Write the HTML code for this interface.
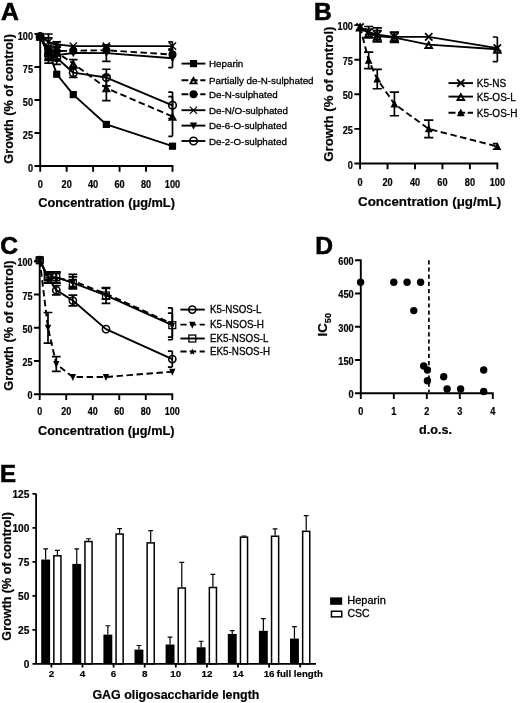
<!DOCTYPE html>
<html><head><meta charset="utf-8"><style>
html,body{margin:0;padding:0;background:#fff;}
svg{display:block;font-family:"Liberation Sans",sans-serif;will-change:transform;}
.r{stroke:#000;stroke-width:0.3px;}
.L{stroke:#000;stroke-width:0.6px;}
text{stroke:#000;stroke-width:0.2px;}
</style></head><body>
<svg width="520" height="703" viewBox="0 0 520 703">
<rect width="520" height="703" fill="#fff"/>
<text x="0.9" y="19.9" font-size="24.8" font-weight="bold" text-anchor="start" class="L">A</text>
<path d="M40.2 34 V166 H172.5 M40.2 166 v4.8 M66.66 166 v4.8 M93.12 166 v4.8 M119.58 166 v4.8 M146.04 166 v4.8 M172.5 166 v4.8 M40.2 166 h-4.8 M40.2 133 h-4.8 M40.2 100 h-4.8 M40.2 67 h-4.8 M40.2 34 h-4.8" stroke="#000" stroke-width="1.9" fill="none" stroke-linecap="square"/>
<text x="40.2" y="187.9" font-size="10" font-weight="bold" text-anchor="middle" textLength="5.1" lengthAdjust="spacingAndGlyphs">0</text>
<text x="66.66" y="187.9" font-size="10" font-weight="bold" text-anchor="middle" textLength="10.2" lengthAdjust="spacingAndGlyphs">20</text>
<text x="93.12" y="187.9" font-size="10" font-weight="bold" text-anchor="middle" textLength="10.2" lengthAdjust="spacingAndGlyphs">40</text>
<text x="119.58" y="187.9" font-size="10" font-weight="bold" text-anchor="middle" textLength="10.2" lengthAdjust="spacingAndGlyphs">60</text>
<text x="146.04" y="187.9" font-size="10" font-weight="bold" text-anchor="middle" textLength="10.2" lengthAdjust="spacingAndGlyphs">80</text>
<text x="172.5" y="187.9" font-size="10" font-weight="bold" text-anchor="middle" textLength="15.3" lengthAdjust="spacingAndGlyphs">100</text>
<text x="33" y="171.6" font-size="10" font-weight="bold" text-anchor="end" textLength="5.1" lengthAdjust="spacingAndGlyphs">0</text>
<text x="33" y="138.6" font-size="10" font-weight="bold" text-anchor="end" textLength="10.2" lengthAdjust="spacingAndGlyphs">25</text>
<text x="33" y="105.6" font-size="10" font-weight="bold" text-anchor="end" textLength="10.2" lengthAdjust="spacingAndGlyphs">50</text>
<text x="33" y="72.6" font-size="10" font-weight="bold" text-anchor="end" textLength="10.2" lengthAdjust="spacingAndGlyphs">75</text>
<text x="33" y="39.6" font-size="10" font-weight="bold" text-anchor="end" textLength="15.3" lengthAdjust="spacingAndGlyphs">100</text>
<text x="38.3" y="206.6" font-size="12.6" font-weight="bold" text-anchor="start" textLength="136.6" lengthAdjust="spacingAndGlyphs">Concentration (&#956;g/mL)</text>
<text transform="translate(13.4,98.9) rotate(-90)" font-size="12.6" font-weight="bold" text-anchor="middle" textLength="129.5" lengthAdjust="spacingAndGlyphs">Growth (% of control)</text>
<polyline points="40.2,36.64 48.47,41.92 56.74,44.56 73.28,46.14 106.35,46.14 172.5,46.14" fill="none" stroke="#000" stroke-width="1.9" stroke-linejoin="round"/>
<polyline points="40.2,36.64 48.47,52.48 56.74,51.16 73.28,50.76 106.35,50.24 172.5,54.59" fill="none" stroke="#000" stroke-width="1.9" stroke-linejoin="round" stroke-dasharray="6.5,3.5"/>
<polyline points="40.2,36.64 48.47,53.8 56.74,55.12 73.28,53.01 106.35,53.14 172.5,58.29" fill="none" stroke="#000" stroke-width="1.9" stroke-linejoin="round"/>
<polyline points="40.2,36.64 48.47,48.52 56.74,52.48 73.28,63.57 106.35,88.12 172.5,116.5" fill="none" stroke="#000" stroke-width="1.9" stroke-linejoin="round" stroke-dasharray="6.5,3.5"/>
<polyline points="40.2,36.64 48.47,55.12 56.74,57.76 73.28,72.68 106.35,77.56 172.5,105.28" fill="none" stroke="#000" stroke-width="1.9" stroke-linejoin="round"/>
<polyline points="40.2,36.64 48.47,49.84 56.74,74.26 73.28,94.59 106.35,124.42 172.5,146.2" fill="none" stroke="#000" stroke-width="1.9" stroke-linejoin="round"/>
<path d="M48.47 37.96 V45.88 M44.27 37.96 H52.67 M44.27 45.88 H52.67" stroke="#000" stroke-width="1.7" fill="none"/>
<path d="M56.74 41.92 V47.2 M52.54 41.92 H60.94 M52.54 47.2 H60.94" stroke="#000" stroke-width="1.7" fill="none"/>
<path d="M172.5 41.79 V50.5 M168.3 41.79 H172.5 M168.3 50.5 H172.5" stroke="#000" stroke-width="1.7" fill="none"/>
<path d="M36.56 33 L43.84 40.28 M43.84 33 L36.56 40.28" stroke="#000" stroke-width="1.2" fill="none"/>
<path d="M44.83 38.28 L52.11 45.56 M52.11 38.28 L44.83 45.56" stroke="#000" stroke-width="1.2" fill="none"/>
<path d="M53.1 40.92 L60.38 48.2 M60.38 40.92 L53.1 48.2" stroke="#000" stroke-width="1.2" fill="none"/>
<path d="M69.64 42.5 L76.92 49.78 M76.92 42.5 L69.64 49.78" stroke="#000" stroke-width="1.2" fill="none"/>
<path d="M102.71 42.5 L109.99 49.78 M109.99 42.5 L102.71 49.78" stroke="#000" stroke-width="1.2" fill="none"/>
<path d="M168.86 42.5 L176.14 49.78 M176.14 42.5 L168.86 49.78" stroke="#000" stroke-width="1.2" fill="none"/>
<path d="M48.47 48.52 V56.44 M44.27 48.52 H52.67 M44.27 56.44 H52.67" stroke="#000" stroke-width="1.7" fill="none"/>
<path d="M56.74 47.2 V55.12 M52.54 47.2 H60.94 M52.54 55.12 H60.94" stroke="#000" stroke-width="1.7" fill="none"/>
<circle cx="40.2" cy="36.64" r="4" fill="#000"/>
<circle cx="48.47" cy="52.48" r="4" fill="#000"/>
<circle cx="56.74" cy="51.16" r="4" fill="#000"/>
<circle cx="73.28" cy="50.76" r="4" fill="#000"/>
<circle cx="106.35" cy="50.24" r="4" fill="#000"/>
<circle cx="172.5" cy="54.59" r="4" fill="#000"/>
<path d="M48.47 48.52 V59.08 M44.27 48.52 H52.67 M44.27 59.08 H52.67" stroke="#000" stroke-width="1.7" fill="none"/>
<path d="M56.74 51.16 V59.08 M52.54 51.16 H60.94 M52.54 59.08 H60.94" stroke="#000" stroke-width="1.7" fill="none"/>
<path d="M106.35 44.82 V61.46 M102.15 44.82 H110.55 M102.15 61.46 H110.55" stroke="#000" stroke-width="1.7" fill="none"/>
<path d="M172.5 49.05 V67.53 M168.3 49.05 H172.5 M168.3 67.53 H172.5" stroke="#000" stroke-width="1.7" fill="none"/>
<path d="M36.6 33.62 L43.8 33.62 L40.2 40.82 Z" fill="#000"/>
<path d="M44.87 50.78 L52.07 50.78 L48.47 57.98 Z" fill="#000"/>
<path d="M53.14 52.1 L60.34 52.1 L56.74 59.3 Z" fill="#000"/>
<path d="M69.68 49.98 L76.88 49.98 L73.28 57.18 Z" fill="#000"/>
<path d="M102.75 50.12 L109.95 50.12 L106.35 57.32 Z" fill="#000"/>
<path d="M168.9 55.26 L176.1 55.26 L172.5 62.46 Z" fill="#000"/>
<path d="M48.47 34 V63.04 M44.27 34 H52.67 M44.27 63.04 H52.67" stroke="#000" stroke-width="1.7" fill="none"/>
<path d="M56.74 44.56 V60.4 M52.54 44.56 H60.94 M52.54 60.4 H60.94" stroke="#000" stroke-width="1.7" fill="none"/>
<path d="M73.28 59.61 V67.53 M69.08 59.61 H77.48 M69.08 67.53 H77.48" stroke="#000" stroke-width="1.7" fill="none"/>
<path d="M106.35 75.58 V100.66 M102.15 75.58 H110.55 M102.15 100.66 H110.55" stroke="#000" stroke-width="1.7" fill="none"/>
<path d="M172.5 96.7 V136.3 M168.3 96.7 H172.5 M168.3 136.3 H172.5" stroke="#000" stroke-width="1.7" fill="none"/>
<path d="M40.2 34.48 L43.18 39.84 L37.22 39.84 Z" fill="none" stroke="#000" stroke-width="1.9" stroke-linejoin="miter"/>
<path d="M48.47 46.36 L51.45 51.72 L45.49 51.72 Z" fill="none" stroke="#000" stroke-width="1.9" stroke-linejoin="miter"/>
<path d="M56.74 50.32 L59.72 55.68 L53.76 55.68 Z" fill="none" stroke="#000" stroke-width="1.9" stroke-linejoin="miter"/>
<path d="M73.28 61.41 L76.26 66.77 L70.3 66.77 Z" fill="none" stroke="#000" stroke-width="1.9" stroke-linejoin="miter"/>
<path d="M106.35 85.96 L109.33 91.32 L103.37 91.32 Z" fill="none" stroke="#000" stroke-width="1.9" stroke-linejoin="miter"/>
<path d="M172.5 114.34 L175.48 119.7 L169.52 119.7 Z" fill="none" stroke="#000" stroke-width="1.9" stroke-linejoin="miter"/>
<path d="M48.47 49.84 V60.4 M44.27 49.84 H52.67 M44.27 60.4 H52.67" stroke="#000" stroke-width="1.7" fill="none"/>
<path d="M56.74 51.16 V64.36 M52.54 51.16 H60.94 M52.54 64.36 H60.94" stroke="#000" stroke-width="1.7" fill="none"/>
<path d="M73.28 68.06 V77.3 M69.08 68.06 H77.48 M69.08 77.3 H77.48" stroke="#000" stroke-width="1.7" fill="none"/>
<path d="M106.35 69.24 V85.88 M102.15 69.24 H110.55 M102.15 85.88 H110.55" stroke="#000" stroke-width="1.7" fill="none"/>
<path d="M172.5 92.08 V118.48 M168.3 92.08 H172.5 M168.3 118.48 H172.5" stroke="#000" stroke-width="1.7" fill="none"/>
<circle cx="40.2" cy="36.64" r="3.8" fill="none" stroke="#000" stroke-width="1.6"/>
<circle cx="48.47" cy="55.12" r="3.8" fill="none" stroke="#000" stroke-width="1.6"/>
<circle cx="56.74" cy="57.76" r="3.8" fill="none" stroke="#000" stroke-width="1.6"/>
<circle cx="73.28" cy="72.68" r="3.8" fill="none" stroke="#000" stroke-width="1.6"/>
<circle cx="106.35" cy="77.56" r="3.8" fill="none" stroke="#000" stroke-width="1.6"/>
<circle cx="172.5" cy="105.28" r="3.8" fill="none" stroke="#000" stroke-width="1.6"/>
<rect x="36.6" y="33.04" width="7.2" height="7.2" fill="#000"/>
<rect x="44.87" y="46.24" width="7.2" height="7.2" fill="#000"/>
<rect x="53.14" y="70.66" width="7.2" height="7.2" fill="#000"/>
<rect x="69.68" y="90.99" width="7.2" height="7.2" fill="#000"/>
<rect x="102.75" y="120.82" width="7.2" height="7.2" fill="#000"/>
<rect x="168.9" y="142.6" width="7.2" height="7.2" fill="#000"/>
<path d="M181.5 63.6 H205.4" stroke="#000" stroke-width="1.9"/>
<rect x="189.9" y="60" width="7.2" height="7.2" fill="#000"/>
<text x="209" y="67.4" font-size="9.8" font-weight="normal" text-anchor="start" class="r">Heparin</text>
<path d="M181.5 80.2 H205.4" stroke="#000" stroke-width="1.9" stroke-dasharray="6.8,2.6"/>
<path d="M193.5 78.05 L196.48 83.4 L190.52 83.4 Z" fill="none" stroke="#000" stroke-width="1.9" stroke-linejoin="miter"/>
<text x="209" y="83.8" font-size="9.8" font-weight="normal" text-anchor="start" class="r">Partially de-N-sulphated</text>
<path d="M181.5 94.3 H205.4" stroke="#000" stroke-width="1.9" stroke-dasharray="6.8,2.6"/>
<circle cx="193.5" cy="94.3" r="4" fill="#000"/>
<text x="209" y="98.1" font-size="9.8" font-weight="normal" text-anchor="start" class="r">De-N-sulphated</text>
<path d="M181.5 110.2 H205.4" stroke="#000" stroke-width="1.9"/>
<path d="M189.86 106.56 L197.14 113.84 M197.14 106.56 L189.86 113.84" stroke="#000" stroke-width="1.2" fill="none"/>
<text x="209" y="114" font-size="9.8" font-weight="normal" text-anchor="start" class="r">De-N/O-sulphated</text>
<path d="M181.5 125.6 H205.4" stroke="#000" stroke-width="1.9"/>
<path d="M189.9 122.58 L197.1 122.58 L193.5 129.78 Z" fill="#000"/>
<text x="209" y="129.4" font-size="9.8" font-weight="normal" text-anchor="start" class="r">De-6-O-sulphated</text>
<path d="M181.5 141 H205.4" stroke="#000" stroke-width="1.9"/>
<circle cx="193.5" cy="141" r="3.8" fill="none" stroke="#000" stroke-width="1.6"/>
<text x="209" y="144.8" font-size="9.8" font-weight="normal" text-anchor="start" class="r">De-2-O-sulphated</text>
<text x="314" y="20.1" font-size="24.6" font-weight="bold" text-anchor="start" class="L">B</text>
<path d="M360.1 25.1 V163.5 H497.35 M360.1 163.5 v4.8 M387.55 163.5 v4.8 M415 163.5 v4.8 M442.45 163.5 v4.8 M469.9 163.5 v4.8 M497.35 163.5 v4.8 M360.1 163.5 h-4.8 M360.1 128.9 h-4.8 M360.1 94.3 h-4.8 M360.1 59.7 h-4.8 M360.1 25.1 h-4.8" stroke="#000" stroke-width="1.9" fill="none" stroke-linecap="square"/>
<text x="360.1" y="185.8" font-size="10.2" font-weight="bold" text-anchor="middle" textLength="5.1" lengthAdjust="spacingAndGlyphs">0</text>
<text x="387.55" y="185.8" font-size="10.2" font-weight="bold" text-anchor="middle" textLength="10.2" lengthAdjust="spacingAndGlyphs">20</text>
<text x="415" y="185.8" font-size="10.2" font-weight="bold" text-anchor="middle" textLength="10.2" lengthAdjust="spacingAndGlyphs">40</text>
<text x="442.45" y="185.8" font-size="10.2" font-weight="bold" text-anchor="middle" textLength="10.2" lengthAdjust="spacingAndGlyphs">60</text>
<text x="469.9" y="185.8" font-size="10.2" font-weight="bold" text-anchor="middle" textLength="10.2" lengthAdjust="spacingAndGlyphs">80</text>
<text x="497.35" y="185.8" font-size="10.2" font-weight="bold" text-anchor="middle" textLength="15.3" lengthAdjust="spacingAndGlyphs">100</text>
<text x="352.9" y="168.6" font-size="10.2" font-weight="bold" text-anchor="end" textLength="5.1" lengthAdjust="spacingAndGlyphs">0</text>
<text x="352.9" y="134" font-size="10.2" font-weight="bold" text-anchor="end" textLength="10.2" lengthAdjust="spacingAndGlyphs">25</text>
<text x="352.9" y="99.4" font-size="10.2" font-weight="bold" text-anchor="end" textLength="10.2" lengthAdjust="spacingAndGlyphs">50</text>
<text x="352.9" y="64.8" font-size="10.2" font-weight="bold" text-anchor="end" textLength="10.2" lengthAdjust="spacingAndGlyphs">75</text>
<text x="352.9" y="30.2" font-size="10.2" font-weight="bold" text-anchor="end" textLength="15.3" lengthAdjust="spacingAndGlyphs">100</text>
<text x="358" y="205.6" font-size="13.2" font-weight="bold" text-anchor="start" textLength="143.2" lengthAdjust="spacingAndGlyphs">Concentration (&#956;g/mL)</text>
<text transform="translate(332.8,94.1) rotate(-90)" font-size="13.2" font-weight="bold" text-anchor="middle" textLength="135.2" lengthAdjust="spacingAndGlyphs">Growth (% of control)</text>
<polyline points="360.1,27.04 368.68,33.4 377.26,36.17 394.41,37.56 428.73,44.61 497.35,49.32" fill="none" stroke="#000" stroke-width="1.9" stroke-linejoin="round"/>
<polyline points="360.1,27.04 368.68,32.02 377.26,34.79 394.41,36.86 428.73,36.86 497.35,48.07" fill="none" stroke="#000" stroke-width="1.9" stroke-linejoin="round"/>
<polyline points="360.1,27.04 368.68,60.39 377.26,79.08 394.41,103.99 428.73,128.9 497.35,146.48" fill="none" stroke="#000" stroke-width="1.9" stroke-linejoin="round" stroke-dasharray="6.5,3.5"/>
<path d="M368.68 29.25 V37.56 M364.08 29.25 H373.28 M364.08 37.56 H373.28" stroke="#000" stroke-width="1.7" fill="none"/>
<path d="M377.26 30.64 V41.71 M372.66 30.64 H381.86 M372.66 41.71 H381.86" stroke="#000" stroke-width="1.7" fill="none"/>
<path d="M394.41 32.71 V42.4 M389.81 32.71 H399.01 M389.81 42.4 H399.01" stroke="#000" stroke-width="1.7" fill="none"/>
<path d="M497.35 37 V61.64 M492.75 37 H497.35 M492.75 61.64 H497.35" stroke="#000" stroke-width="1.7" fill="none"/>
<path d="M360.1 24.64 L363.35 30.54 L356.85 30.54 Z" fill="none" stroke="#000" stroke-width="2" stroke-linejoin="miter"/>
<path d="M368.68 31 L371.93 36.9 L365.43 36.9 Z" fill="none" stroke="#000" stroke-width="2" stroke-linejoin="miter"/>
<path d="M377.26 33.77 L380.51 39.67 L374.01 39.67 Z" fill="none" stroke="#000" stroke-width="2" stroke-linejoin="miter"/>
<path d="M394.41 35.16 L397.66 41.06 L391.16 41.06 Z" fill="none" stroke="#000" stroke-width="2" stroke-linejoin="miter"/>
<path d="M428.73 42.21 L431.98 48.11 L425.48 48.11 Z" fill="none" stroke="#000" stroke-width="2" stroke-linejoin="miter"/>
<path d="M497.35 46.92 L500.6 52.82 L494.1 52.82 Z" fill="none" stroke="#000" stroke-width="2" stroke-linejoin="miter"/>
<path d="M368.68 26.48 V37.56 M364.08 26.48 H373.28 M364.08 37.56 H373.28" stroke="#000" stroke-width="1.7" fill="none"/>
<path d="M377.26 27.87 V41.71 M372.66 27.87 H381.86 M372.66 41.71 H381.86" stroke="#000" stroke-width="1.7" fill="none"/>
<path d="M394.41 32.02 V41.71 M389.81 32.02 H399.01 M389.81 41.71 H399.01" stroke="#000" stroke-width="1.7" fill="none"/>
<path d="M356.44 23.38 L363.76 30.7 M363.76 23.38 L356.44 30.7" stroke="#000" stroke-width="1.8" fill="none"/>
<path d="M365.02 28.36 L372.34 35.68 M372.34 28.36 L365.02 35.68" stroke="#000" stroke-width="1.8" fill="none"/>
<path d="M373.6 31.13 L380.92 38.45 M380.92 31.13 L373.6 38.45" stroke="#000" stroke-width="1.8" fill="none"/>
<path d="M390.75 33.2 L398.07 40.52 M398.07 33.2 L390.75 40.52" stroke="#000" stroke-width="1.8" fill="none"/>
<path d="M425.06 33.2 L432.39 40.52 M432.39 33.2 L425.06 40.52" stroke="#000" stroke-width="1.8" fill="none"/>
<path d="M493.69 44.41 L501.01 51.73 M501.01 44.41 L493.69 51.73" stroke="#000" stroke-width="1.8" fill="none"/>
<path d="M368.68 52.09 V68.7 M364.08 52.09 H373.28 M364.08 68.7 H373.28" stroke="#000" stroke-width="1.7" fill="none"/>
<path d="M377.26 69.39 V88.76 M372.66 69.39 H381.86 M372.66 88.76 H381.86" stroke="#000" stroke-width="1.7" fill="none"/>
<path d="M394.41 92.22 V115.75 M389.81 92.22 H399.01 M389.81 115.75 H399.01" stroke="#000" stroke-width="1.7" fill="none"/>
<path d="M428.73 120.18 V137.62 M424.12 120.18 H433.33 M424.12 137.62 H433.33" stroke="#000" stroke-width="1.7" fill="none"/>
<path d="M497.35 143.71 V149.24 M492.75 143.71 H497.35 M492.75 149.24 H497.35" stroke="#000" stroke-width="1.7" fill="none"/>
<path d="M360.1 22.86 L364 30.46 L356.2 30.46 Z" fill="#000"/>
<path d="M368.68 56.21 L372.58 63.81 L364.78 63.81 Z" fill="#000"/>
<path d="M377.26 74.9 L381.16 82.5 L373.36 82.5 Z" fill="#000"/>
<path d="M394.41 99.81 L398.31 107.41 L390.51 107.41 Z" fill="#000"/>
<path d="M428.73 124.72 L432.62 132.32 L424.83 132.32 Z" fill="#000"/>
<path d="M497.35 142.3 L501.25 149.9 L493.45 149.9 Z" fill="#000"/>
<path d="M448.5 83.1 H473" stroke="#000" stroke-width="1.9"/>
<path d="M457.14 79.44 L464.46 86.76 M464.46 79.44 L457.14 86.76" stroke="#000" stroke-width="1.8" fill="none"/>
<text x="476.8" y="86.6" font-size="10" font-weight="normal" text-anchor="start" class="r">K5-NS</text>
<path d="M448.5 96.6 H473" stroke="#000" stroke-width="1.9"/>
<path d="M460.8 94.2 L464.05 100.1 L457.55 100.1 Z" fill="none" stroke="#000" stroke-width="2" stroke-linejoin="miter"/>
<text x="476.8" y="100.5" font-size="10" font-weight="normal" text-anchor="start" class="r">K5-OS-L</text>
<path d="M448.5 112.8 H473" stroke="#000" stroke-width="1.9" stroke-dasharray="7,2.6"/>
<path d="M460.8 108.62 L464.7 116.22 L456.9 116.22 Z" fill="#000"/>
<text x="476.8" y="116.6" font-size="10" font-weight="normal" text-anchor="start" class="r">K5-OS-H</text>
<text x="0.3" y="253.7" font-size="24.6" font-weight="bold" text-anchor="start" class="L">C</text>
<path d="M39.7 261.3 V394.3 H172.3 M39.7 394.3 v4.8 M66.22 394.3 v4.8 M92.74 394.3 v4.8 M119.26 394.3 v4.8 M145.78 394.3 v4.8 M172.3 394.3 v4.8 M39.7 394.3 h-4.8 M39.7 361.05 h-4.8 M39.7 327.8 h-4.8 M39.7 294.55 h-4.8 M39.7 261.3 h-4.8" stroke="#000" stroke-width="1.9" fill="none" stroke-linecap="square"/>
<text x="39.7" y="415" font-size="10" font-weight="bold" text-anchor="middle" textLength="5" lengthAdjust="spacingAndGlyphs">0</text>
<text x="66.22" y="415" font-size="10" font-weight="bold" text-anchor="middle" textLength="10" lengthAdjust="spacingAndGlyphs">20</text>
<text x="92.74" y="415" font-size="10" font-weight="bold" text-anchor="middle" textLength="10" lengthAdjust="spacingAndGlyphs">40</text>
<text x="119.26" y="415" font-size="10" font-weight="bold" text-anchor="middle" textLength="10" lengthAdjust="spacingAndGlyphs">60</text>
<text x="145.78" y="415" font-size="10" font-weight="bold" text-anchor="middle" textLength="10" lengthAdjust="spacingAndGlyphs">80</text>
<text x="172.3" y="415" font-size="10" font-weight="bold" text-anchor="middle" textLength="15" lengthAdjust="spacingAndGlyphs">100</text>
<text x="32.6" y="399.3" font-size="10" font-weight="bold" text-anchor="end" textLength="5" lengthAdjust="spacingAndGlyphs">0</text>
<text x="32.6" y="366.05" font-size="10" font-weight="bold" text-anchor="end" textLength="10" lengthAdjust="spacingAndGlyphs">25</text>
<text x="32.6" y="332.8" font-size="10" font-weight="bold" text-anchor="end" textLength="10" lengthAdjust="spacingAndGlyphs">50</text>
<text x="32.6" y="299.55" font-size="10" font-weight="bold" text-anchor="end" textLength="10" lengthAdjust="spacingAndGlyphs">75</text>
<text x="32.6" y="266.3" font-size="10" font-weight="bold" text-anchor="end" textLength="15" lengthAdjust="spacingAndGlyphs">100</text>
<text x="38" y="435.4" font-size="12.6" font-weight="bold" text-anchor="start" textLength="136.5" lengthAdjust="spacingAndGlyphs">Concentration (&#956;g/mL)</text>
<text transform="translate(13.4,325.6) rotate(-90)" font-size="12.6" font-weight="bold" text-anchor="middle" textLength="130.3" lengthAdjust="spacingAndGlyphs">Growth (% of control)</text>
<polyline points="39.7,260.24 47.99,277.93 56.28,277.93 72.85,280.98 106,293.75 172.3,323.81" fill="none" stroke="#000" stroke-width="1.9" stroke-linejoin="round" stroke-dasharray="6.5,3.5"/>
<polyline points="39.7,260.24 47.99,277.26 56.28,277.26 72.85,282.85 106,295.48 172.3,325.14" fill="none" stroke="#000" stroke-width="1.9" stroke-linejoin="round"/>
<polyline points="39.7,260.24 47.99,277.26 56.28,290.16 72.85,300.54 106,329.13 172.3,359.06" fill="none" stroke="#000" stroke-width="1.9" stroke-linejoin="round"/>
<polyline points="39.7,260.24 47.99,327.8 56.28,363.98 72.85,377.01 106,377.01 172.3,371.69" fill="none" stroke="#000" stroke-width="1.9" stroke-linejoin="round" stroke-dasharray="6.5,3.5"/>
<path d="M47.99 272.61 V283.25 M43.59 272.61 H52.39 M43.59 283.25 H52.39" stroke="#000" stroke-width="1.7" fill="none"/>
<path d="M56.28 272.61 V283.25 M51.88 272.61 H60.68 M51.88 283.25 H60.68" stroke="#000" stroke-width="1.7" fill="none"/>
<path d="M72.85 274.33 V287.63 M68.45 274.33 H77.25 M68.45 287.63 H77.25" stroke="#000" stroke-width="1.7" fill="none"/>
<path d="M106 288.43 V299.07 M101.6 288.43 H110.4 M101.6 299.07 H110.4" stroke="#000" stroke-width="1.7" fill="none"/>
<path d="M172.3 307.85 V339.77 M167.9 307.85 H172.3 M167.9 339.77 H172.3" stroke="#000" stroke-width="1.7" fill="none"/>
<polygon points="39.7,257.14 40.63,259.36 43.03,259.55 41.2,261.12 41.76,263.47 39.7,262.21 37.64,263.47 38.2,261.12 36.37,259.55 38.77,259.36" fill="#000"/>
<polygon points="47.99,274.82 48.91,277.05 51.32,277.24 49.49,278.81 50.04,281.16 47.99,279.9 45.93,281.16 46.49,278.81 44.66,277.24 47.06,277.05" fill="#000"/>
<polygon points="56.28,274.82 57.2,277.05 59.6,277.24 57.77,278.81 58.33,281.16 56.28,279.9 54.22,281.16 54.78,278.81 52.95,277.24 55.35,277.05" fill="#000"/>
<polygon points="72.85,277.88 73.78,280.11 76.18,280.3 74.35,281.87 74.91,284.22 72.85,282.96 70.79,284.22 71.35,281.87 69.52,280.3 71.92,280.11" fill="#000"/>
<polygon points="106,290.65 106.93,292.88 109.33,293.07 107.5,294.64 108.06,296.98 106,295.73 103.94,296.98 104.5,294.64 102.67,293.07 105.07,292.88" fill="#000"/>
<polygon points="172.3,320.71 173.23,322.94 175.63,323.13 173.8,324.7 174.36,327.04 172.3,325.78 170.24,327.04 170.8,324.7 168.97,323.13 171.37,322.94" fill="#000"/>
<path d="M47.99 271.94 V282.58 M43.59 271.94 H52.39 M43.59 282.58 H52.39" stroke="#000" stroke-width="1.7" fill="none"/>
<path d="M56.28 271.94 V282.58 M51.88 271.94 H60.68 M51.88 282.58 H60.68" stroke="#000" stroke-width="1.7" fill="none"/>
<path d="M72.85 276.86 V288.83 M68.45 276.86 H77.25 M68.45 288.83 H77.25" stroke="#000" stroke-width="1.7" fill="none"/>
<path d="M106 287.5 V303.46 M101.6 287.5 H110.4 M101.6 303.46 H110.4" stroke="#000" stroke-width="1.7" fill="none"/>
<path d="M172.3 313.17 V337.11 M167.9 313.17 H172.3 M167.9 337.11 H172.3" stroke="#000" stroke-width="1.7" fill="none"/>
<rect x="36.25" y="256.79" width="6.9" height="6.9" fill="none" stroke="#000" stroke-width="1.3"/>
<rect x="44.54" y="273.81" width="6.9" height="6.9" fill="none" stroke="#000" stroke-width="1.3"/>
<rect x="52.83" y="273.81" width="6.9" height="6.9" fill="none" stroke="#000" stroke-width="1.3"/>
<rect x="69.4" y="279.4" width="6.9" height="6.9" fill="none" stroke="#000" stroke-width="1.3"/>
<rect x="102.55" y="292.03" width="6.9" height="6.9" fill="none" stroke="#000" stroke-width="1.3"/>
<rect x="168.85" y="321.69" width="6.9" height="6.9" fill="none" stroke="#000" stroke-width="1.3"/>
<path d="M47.99 274.6 V279.92 M43.59 274.6 H52.39 M43.59 279.92 H52.39" stroke="#000" stroke-width="1.7" fill="none"/>
<path d="M56.28 285.51 V294.82 M51.88 285.51 H60.68 M51.88 294.82 H60.68" stroke="#000" stroke-width="1.7" fill="none"/>
<path d="M72.85 295.22 V305.86 M68.45 295.22 H77.25 M68.45 305.86 H77.25" stroke="#000" stroke-width="1.7" fill="none"/>
<path d="M172.3 351.07 V367.04 M167.9 351.07 H172.3 M167.9 367.04 H172.3" stroke="#000" stroke-width="1.7" fill="none"/>
<circle cx="39.7" cy="260.24" r="3.6" fill="none" stroke="#000" stroke-width="1.6"/>
<circle cx="47.99" cy="277.26" r="3.6" fill="none" stroke="#000" stroke-width="1.6"/>
<circle cx="56.28" cy="290.16" r="3.6" fill="none" stroke="#000" stroke-width="1.6"/>
<circle cx="72.85" cy="300.54" r="3.6" fill="none" stroke="#000" stroke-width="1.6"/>
<circle cx="106" cy="329.13" r="3.6" fill="none" stroke="#000" stroke-width="1.6"/>
<circle cx="172.3" cy="359.06" r="3.6" fill="none" stroke="#000" stroke-width="1.6"/>
<path d="M47.99 312.5 V343.1 M43.59 312.5 H52.39 M43.59 343.1 H52.39" stroke="#000" stroke-width="1.7" fill="none"/>
<path d="M56.28 356.66 V371.29 M51.88 356.66 H60.68 M51.88 371.29 H60.68" stroke="#000" stroke-width="1.7" fill="none"/>
<path d="M36.5 257.3 L42.9 257.3 L39.7 264.3 Z" fill="#000"/>
<path d="M44.79 324.86 L51.19 324.86 L47.99 331.86 Z" fill="#000"/>
<path d="M53.08 361.04 L59.48 361.04 L56.28 368.04 Z" fill="#000"/>
<path d="M69.65 374.07 L76.05 374.07 L72.85 381.07 Z" fill="#000"/>
<path d="M102.8 374.07 L109.2 374.07 L106 381.07 Z" fill="#000"/>
<path d="M169.1 368.75 L175.5 368.75 L172.3 375.75 Z" fill="#000"/>
<path d="M180.4 309.6 H204.8" stroke="#000" stroke-width="1.9"/>
<circle cx="192.3" cy="309.6" r="3.6" fill="none" stroke="#000" stroke-width="1.6"/>
<text x="210" y="313.2" font-size="10.4" font-weight="normal" text-anchor="start" textLength="51.5" lengthAdjust="spacingAndGlyphs" class="r">K5-NSOS-L</text>
<path d="M180.4 324.6 H204.8" stroke="#000" stroke-width="1.9" stroke-dasharray="6.2,3.4"/>
<path d="M189.1 321.66 L195.5 321.66 L192.3 328.66 Z" fill="#000"/>
<text x="210" y="327.8" font-size="10.4" font-weight="normal" text-anchor="start" textLength="54" lengthAdjust="spacingAndGlyphs" class="r">K5-NSOS-H</text>
<path d="M180.4 338.5 H204.8" stroke="#000" stroke-width="1.9"/>
<rect x="188.85" y="335.05" width="6.9" height="6.9" fill="none" stroke="#000" stroke-width="1.3"/>
<text x="210" y="341.7" font-size="10.4" font-weight="normal" text-anchor="start" textLength="58.5" lengthAdjust="spacingAndGlyphs" class="r">EK5-NSOS-L</text>
<path d="M180.4 351.5 H204.8" stroke="#000" stroke-width="1.9" stroke-dasharray="6.2,3.4"/>
<polygon points="192.3,348.4 193.23,350.63 195.63,350.82 193.8,352.39 194.36,354.73 192.3,353.47 190.24,354.73 190.8,352.39 188.97,350.82 191.37,350.63" fill="#000"/>
<text x="210" y="354.5" font-size="10.4" font-weight="normal" text-anchor="start" textLength="60" lengthAdjust="spacingAndGlyphs" class="r">EK5-NSOS-H</text>
<text x="315.3" y="253.7" font-size="24.6" font-weight="bold" text-anchor="start" class="L">D</text>
<path d="M360.8 260.2 V393.2 H492.8 M360.8 393.2 v4.8 M393.8 393.2 v4.8 M426.8 393.2 v4.8 M459.8 393.2 v4.8 M492.8 393.2 v4.8 M360.8 393.2 h-4.8 M360.8 359.95 h-4.8 M360.8 326.7 h-4.8 M360.8 293.45 h-4.8 M360.8 260.2 h-4.8" stroke="#000" stroke-width="1.9" fill="none" stroke-linecap="square"/>
<text x="360.8" y="415.2" font-size="10" font-weight="bold" text-anchor="middle" textLength="5.1" lengthAdjust="spacingAndGlyphs">0</text>
<text x="393.8" y="415.2" font-size="10" font-weight="bold" text-anchor="middle" textLength="5.1" lengthAdjust="spacingAndGlyphs">1</text>
<text x="426.8" y="415.2" font-size="10" font-weight="bold" text-anchor="middle" textLength="5.1" lengthAdjust="spacingAndGlyphs">2</text>
<text x="459.8" y="415.2" font-size="10" font-weight="bold" text-anchor="middle" textLength="5.1" lengthAdjust="spacingAndGlyphs">3</text>
<text x="492.8" y="415.2" font-size="10" font-weight="bold" text-anchor="middle" textLength="5.1" lengthAdjust="spacingAndGlyphs">4</text>
<text x="353.6" y="398.2" font-size="10" font-weight="bold" text-anchor="end" textLength="5.1" lengthAdjust="spacingAndGlyphs">0</text>
<text x="353.6" y="364.95" font-size="10" font-weight="bold" text-anchor="end" textLength="15.3" lengthAdjust="spacingAndGlyphs">150</text>
<text x="353.6" y="331.7" font-size="10" font-weight="bold" text-anchor="end" textLength="15.3" lengthAdjust="spacingAndGlyphs">300</text>
<text x="353.6" y="298.45" font-size="10" font-weight="bold" text-anchor="end" textLength="15.3" lengthAdjust="spacingAndGlyphs">450</text>
<text x="353.6" y="265.2" font-size="10" font-weight="bold" text-anchor="end" textLength="15.3" lengthAdjust="spacingAndGlyphs">600</text>
<text x="435.5" y="433.6" font-size="12.6" font-weight="bold" text-anchor="middle" textLength="33" lengthAdjust="spacingAndGlyphs">d.o.s.</text>
<text transform="translate(326.8,336.4) rotate(-90)" font-size="13.2" font-weight="bold">IC<tspan font-size="9.2" dy="4.2">50</tspan></text>
<path d="M428.9 260.2 V392" stroke="#000" stroke-width="1.7" stroke-dasharray="4.2,3"/>
<circle cx="360.6" cy="282.3" r="3.7" fill="#000"/>
<circle cx="393.8" cy="282.3" r="3.7" fill="#000"/>
<circle cx="407.1" cy="282.3" r="3.7" fill="#000"/>
<circle cx="420.6" cy="282.3" r="3.7" fill="#000"/>
<circle cx="413.8" cy="310.6" r="3.7" fill="#000"/>
<circle cx="423.7" cy="366" r="3.7" fill="#000"/>
<circle cx="427.4" cy="370" r="3.7" fill="#000"/>
<circle cx="427.4" cy="380.8" r="3.7" fill="#000"/>
<circle cx="443.7" cy="376.8" r="3.7" fill="#000"/>
<circle cx="447.1" cy="389" r="3.7" fill="#000"/>
<circle cx="460.6" cy="389" r="3.7" fill="#000"/>
<circle cx="483.7" cy="370" r="3.7" fill="#000"/>
<circle cx="483.7" cy="391.5" r="3.7" fill="#000"/>
<text x="0.1" y="481.8" font-size="24" font-weight="bold" text-anchor="start" class="L">E</text>
<path d="M45.65 559.54 V548.79 M43.25 548.79 h4.8" stroke="#000" stroke-width="1.2"/>
<rect x="41.2" y="559.54" width="8.9" height="104.31" fill="#000"/>
<path d="M57.4 555.05 V550.29 M55 550.29 h4.8" stroke="#000" stroke-width="1.2"/>
<rect x="53.85" y="555.8" width="7.1" height="108.05" fill="#fff" stroke="#000" stroke-width="1.5"/>
<path d="M76.75 563.89 V548.93 M74.35 548.93 h4.8" stroke="#000" stroke-width="1.2"/>
<rect x="72.3" y="563.89" width="8.9" height="99.96" fill="#000"/>
<path d="M88.5 540.77 V538.73 M86.1 538.73 h4.8" stroke="#000" stroke-width="1.2"/>
<rect x="84.95" y="541.52" width="7.1" height="122.33" fill="#fff" stroke="#000" stroke-width="1.5"/>
<path d="M107.85 634.61 V625.77 M105.45 625.77 h4.8" stroke="#000" stroke-width="1.2"/>
<rect x="103.4" y="634.61" width="8.9" height="29.24" fill="#000"/>
<path d="M119.6 533.29 V528.53 M117.2 528.53 h4.8" stroke="#000" stroke-width="1.2"/>
<rect x="116.05" y="534.04" width="7.1" height="129.81" fill="#fff" stroke="#000" stroke-width="1.5"/>
<path d="M138.95 649.57 V645.49 M136.55 645.49 h4.8" stroke="#000" stroke-width="1.2"/>
<rect x="134.5" y="649.57" width="8.9" height="14.28" fill="#000"/>
<path d="M150.7 542.13 V530.57 M148.3 530.57 h4.8" stroke="#000" stroke-width="1.2"/>
<rect x="147.15" y="542.88" width="7.1" height="120.97" fill="#fff" stroke="#000" stroke-width="1.5"/>
<path d="M170.05 644.54 V637.06 M167.65 637.06 h4.8" stroke="#000" stroke-width="1.2"/>
<rect x="165.6" y="644.54" width="8.9" height="19.31" fill="#000"/>
<path d="M181.8 587.28 V562.39 M179.4 562.39 h4.8" stroke="#000" stroke-width="1.2"/>
<rect x="178.25" y="588.03" width="7.1" height="75.82" fill="#fff" stroke="#000" stroke-width="1.5"/>
<path d="M201.15 647.26 V641.27 M198.75 641.27 h4.8" stroke="#000" stroke-width="1.2"/>
<rect x="196.7" y="647.26" width="8.9" height="16.59" fill="#000"/>
<path d="M212.9 586.74 V574.36 M210.5 574.36 h4.8" stroke="#000" stroke-width="1.2"/>
<rect x="209.35" y="587.49" width="7.1" height="76.36" fill="#fff" stroke="#000" stroke-width="1.5"/>
<path d="M232.25 633.93 V630.53 M229.85 630.53 h4.8" stroke="#000" stroke-width="1.2"/>
<rect x="227.8" y="633.93" width="8.9" height="29.92" fill="#000"/>
<path d="M244 536.42 V536.01 M241.6 536.01 h4.8" stroke="#000" stroke-width="1.2"/>
<rect x="240.45" y="537.17" width="7.1" height="126.68" fill="#fff" stroke="#000" stroke-width="1.5"/>
<path d="M263.35 630.8 V618.56 M260.95 618.56 h4.8" stroke="#000" stroke-width="1.2"/>
<rect x="258.9" y="630.8" width="8.9" height="33.05" fill="#000"/>
<path d="M275.1 535.47 V528.94 M272.7 528.94 h4.8" stroke="#000" stroke-width="1.2"/>
<rect x="271.55" y="536.22" width="7.1" height="127.63" fill="#fff" stroke="#000" stroke-width="1.5"/>
<path d="M294.45 638.55 V626.59 M292.05 626.59 h4.8" stroke="#000" stroke-width="1.2"/>
<rect x="290" y="638.55" width="8.9" height="25.3" fill="#000"/>
<path d="M306.2 530.57 V515.61 M303.8 515.61 h4.8" stroke="#000" stroke-width="1.2"/>
<rect x="302.65" y="531.32" width="7.1" height="132.53" fill="#fff" stroke="#000" stroke-width="1.5"/>
<path d="M36.1 493.85 V663.85 H316 M51.4 663.85 v3.6 M82.5 663.85 v3.6 M113.6 663.85 v3.6 M144.7 663.85 v3.6 M175.8 663.85 v3.6 M206.9 663.85 v3.6 M238 663.85 v3.6 M269.1 663.85 v3.6 M300.2 663.85 v3.6 M36.1 663.85 h-3.6 M36.1 629.85 h-3.6 M36.1 595.85 h-3.6 M36.1 561.85 h-3.6 M36.1 527.85 h-3.6 M36.1 493.85 h-3.6" stroke="#000" stroke-width="1.8" fill="none"/>
<text x="51.4" y="676.6" font-size="9.8" font-weight="bold" text-anchor="middle">2</text>
<text x="82.5" y="676.6" font-size="9.8" font-weight="bold" text-anchor="middle">4</text>
<text x="113.6" y="676.6" font-size="9.8" font-weight="bold" text-anchor="middle">6</text>
<text x="144.7" y="676.6" font-size="9.8" font-weight="bold" text-anchor="middle">8</text>
<text x="175.8" y="676.6" font-size="9.8" font-weight="bold" text-anchor="middle">10</text>
<text x="206.9" y="676.6" font-size="9.8" font-weight="bold" text-anchor="middle">12</text>
<text x="238" y="676.6" font-size="9.8" font-weight="bold" text-anchor="middle">14</text>
<text x="269.1" y="676.6" font-size="9.8" font-weight="bold" text-anchor="middle">16</text>
<text x="299.8" y="676.6" font-size="9.8" font-weight="bold" text-anchor="middle" textLength="46.2" lengthAdjust="spacingAndGlyphs">full length</text>
<text x="29.4" y="668.25" font-size="10.2" font-weight="bold" text-anchor="end">0</text>
<text x="29.4" y="634.25" font-size="10.2" font-weight="bold" text-anchor="end">25</text>
<text x="29.4" y="600.25" font-size="10.2" font-weight="bold" text-anchor="end">50</text>
<text x="29.4" y="566.25" font-size="10.2" font-weight="bold" text-anchor="end">75</text>
<text x="29.4" y="532.25" font-size="10.2" font-weight="bold" text-anchor="end">100</text>
<text x="29.4" y="498.25" font-size="10.2" font-weight="bold" text-anchor="end">125</text>
<text x="92.4" y="698.5" font-size="12.4" font-weight="bold" text-anchor="start" textLength="167" lengthAdjust="spacingAndGlyphs">GAG oligosaccharide length</text>
<text transform="translate(11.3,576.4) rotate(-90)" font-size="12.4" font-weight="bold" text-anchor="middle" textLength="128.5" lengthAdjust="spacingAndGlyphs">Growth (% of control)</text>
<rect x="330.1" y="597.4" width="12.1" height="7.4" fill="#000"/>
<text x="347.2" y="604.1" font-size="10.6" font-weight="normal" text-anchor="start" textLength="38.6" lengthAdjust="spacingAndGlyphs" class="r">Heparin</text>
<rect x="331.45" y="611.25" width="10.3" height="5.6" fill="#fff" stroke="#000" stroke-width="1.5"/>
<text x="347.6" y="617.3" font-size="10.6" font-weight="normal" text-anchor="start" textLength="22" lengthAdjust="spacingAndGlyphs" class="r">CSC</text>
</svg>
</body></html>
